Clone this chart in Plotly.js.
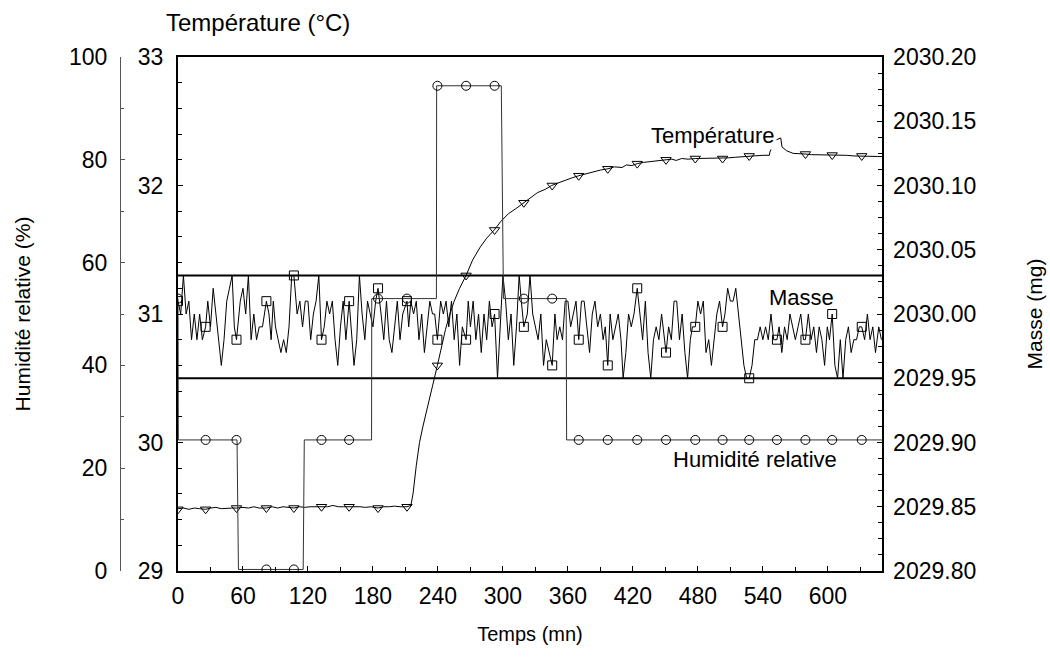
<!DOCTYPE html>
<html><head><meta charset="utf-8">
<script src="https://cdn.plot.ly/plotly-3.0.1.min.js"></script>
<style>html,body{margin:0;padding:0;background:#fff}#chart{width:1050px;height:659px}</style>
</head><body><div id="chart"></div>
<script>
// ---- Data ----
const markerTimes = [0,25.5,54,81.6,107,132.5,158,184.7,211.4,239.5,266,292.3,319.3,345.5,370,396.8,424,450.6,477.6,502.8,527.4,553,579.3,604,631.3];

// Relative humidity (%) - step profile
const hrTime  = [0,0.3,54.5,55.8,115.6,116.6,178.7,178.9,238.6,238.8,298.5,300.5,358.4,358.8,650];
const hrValue = [53,25.5,25.5,0.3,0.3,25.5,25.5,53,53,94.4,94.4,53,53,25.5,25.5];
const hrMarkerValue = [53,25.5,25.5,0.3,0.3,25.5,25.5,53,53,94.4,94.4,94.4,53,53,25.5,25.5,25.5,25.5,25.5,25.5,25.5,25.5,25.5,25.5,25.5];

// Temperature (°C)
const tempTime = [0,5,10,15,20,25.5,30,35,40,45,50,54,60,65,70,75,81.6,87,92,97,102,107,112,117,122,127,132.5,138,143,148,153,158,163,168,173,178,184.7,190,195,200,205,211.4,215,217,220,223,226,229,232,235,239.5,243,247,251,255,260,266,272,279,285,292,298,305,312,319.3,326,332,339,345,351,357,364,370,377,384,390,397,403,410,414,419,424,430,437,444,450.6,456,460,465,471,478,484,490,496,502,508,515,521,527.4,533,540,546,546.5,551,556.5,557.7,562,568,573,579,585,591,597,604,610,617,624,631,638,645,650];
const tempValue = [29.485,29.49,29.48,29.49,29.485,29.48,29.49,29.495,29.485,29.49,29.49,29.49,29.495,29.49,29.5,29.49,29.49,29.5,29.49,29.5,29.495,29.49,29.5,29.495,29.5,29.5,29.5,29.5,29.51,29.5,29.5,29.5,29.505,29.5,29.495,29.5,29.49,29.5,29.5,29.505,29.5,29.5,29.51,29.6,29.82,30.0,30.12,30.22,30.33,30.44,30.6,30.74,30.88,31.0,31.1,31.2,31.3,31.42,31.52,31.59,31.654,31.72,31.78,31.82,31.866,31.91,31.945,31.97,32.0,32.02,32.04,32.06,32.076,32.09,32.11,32.12,32.13,32.145,32.14,32.16,32.155,32.17,32.18,32.185,32.19,32.2,32.205,32.195,32.21,32.205,32.21,32.21,32.215,32.21,32.21,32.215,32.22,32.225,32.23,32.23,32.235,32.235,32.26,32.35,32.37,32.30,32.27,32.25,32.25,32.245,32.24,32.24,32.235,32.237,32.235,32.235,32.23,32.23,32.23,32.225,32.225];
const tempMarkerTime  = [0,25.5,54,81.6,107,132.5,158,184.7,211.4,239.5,266,292.3,319.3,345.5,370,396.8,424,450.6,477.6,502.8,527.4,579.3,604,631.3];
const tempMarkerValue = [29.48,29.48,29.49,29.49,29.49,29.5,29.5,29.49,29.5,30.6,31.3,31.654,31.866,32.0,32.076,32.13,32.17,32.2,32.21,32.21,32.23,32.245,32.237,32.23];

// Mass (mg)
const massTime = [
0,2.5,5,7.5,10,12.5,15,17.5,20,22.5,
25.5,27.5,30,32.5,35,37.5,40,42.5,45,47.5,50,
52,54,57.5,60,62.5,65,67.5,70,72.5,75,78,
81.6,84,86,88,90,92.5,95,97.5,100,102.5,105,107,
110,112.5,115,117.5,120,122.5,125,127.5,130,132.5,
135,137.5,140,142.5,145,147.5,150,152.5,155,158,
160,162.5,165,167.5,170,172.5,175,177.5,180,182.5,184.7,
187.5,190,192.5,195,197.5,200,202.5,205,207.5,211.4,
213,215,217.5,220,222.5,225,227.5,230,232.5,235,237,239.5,
242.5,245,247.5,250,252.5,255,257.5,260,262.5,266,
268,270,272.5,275,277.5,280,282.5,285,287.5,290,292.3,
295,297.5,300,302.5,305,307.5,310,312.5,315,317,319.3,
322.5,325,327.5,330,332.5,335,337.5,340,342.5,345.5,
348,350,352.5,355,357.5,360,362.5,365,367.5,370,
372.5,375,377.5,380,382.5,385,387.5,390,392.5,394.5,396.8,
399,401.5,404,406.5,409,411,413.5,416,418.5,421,424,
426.5,429,431.5,434,436.5,439,441.5,444,446.5,450.6,
453,455.5,458,460.5,463,465.5,468,470.5,473,475,477.6,
480,482.5,485,487.5,490,492.5,495,497.5,500,502.8,
505,507.5,510,512.5,515,517.5,520,522.5,525,527.4,
530,532.5,535,537.5,540,542.5,545,547.5,550,553,
555,557.5,560,562.5,565,567.5,570,572.5,575,577.5,579.3,
582,584.5,587,589.5,592,594.5,597,599.5,601.5,604,
606.5,609,611.5,614,616.5,619,621.5,624,626.5,629,631.3,
634,636.5,639,641.5,644,647,649.5];
const massValue = [
2030.01,2030.00,2030.03,2030.00,2030.01,2029.98,2030.00,2029.98,2030.00,2029.98,
2029.99,2030.01,2029.99,2030.02,2030.00,2029.98,2029.96,2029.98,2030.01,2030.02,2030.03,
2029.99,2029.98,2030.01,2030.02,2030.00,2030.03,2029.98,2030.00,2029.98,2029.99,2029.99,
2030.01,2030.00,2029.98,2030.01,2029.99,2029.98,2029.97,2029.98,2029.97,2029.99,2030.03,2030.03,
2030.00,2030.01,2029.99,2030.01,2030.01,2029.98,2030.00,2030.01,2030.03,2029.98,
2029.99,2030.01,2030.00,2030.01,2029.98,2029.96,2029.99,2030.01,2029.98,2030.01,
2029.99,2029.96,2029.98,2030.03,2030.00,2029.98,2030.01,2030.00,2029.99,2030.01,2030.02,
2030.00,2029.98,2030.01,2029.98,2029.97,2029.99,2030.01,2029.98,2030.00,2030.01,
2029.99,2030.01,2030.00,2030.01,2029.98,2030.00,2029.97,2029.99,2030.01,2030.00,2030.00,2029.98,
2030.01,2030.00,2030.01,2029.99,2030.01,2029.98,2030.00,2029.96,2029.99,2029.98,
2030.01,2029.99,2030.01,2029.98,2030.00,2029.97,2030.00,2029.98,2030.01,2029.99,2030.00,
2029.95,2029.99,2030.03,2030.01,2029.98,2030.00,2029.96,2029.99,2030.03,2030.01,2029.99,
2030.00,2030.03,2030.00,2029.99,2029.98,2030.00,2029.96,2029.98,2029.97,2029.96,
2030.00,2029.98,2029.99,2029.98,2030.01,2030.01,2029.99,2030.00,2030.01,2029.98,
2030.01,2030.01,2029.99,2029.97,2030.00,2030.01,2029.99,2030.00,2029.98,2029.99,2029.96,
2030.00,2029.98,2029.99,2030.00,2029.98,2029.95,2029.97,2030.00,2029.99,2030.00,2030.02,
2030.00,2029.98,2030.01,2029.97,2029.95,2029.98,2029.99,2029.98,2030.00,2029.97,
2029.99,2029.98,2030.01,2030.01,2029.98,2030.00,2029.97,2029.95,2029.98,2029.99,2029.99,
2030.01,2030.00,2030.01,2029.97,2029.98,2029.96,2029.98,2030.00,2030.01,2029.99,
2030.00,2030.02,2030.01,2030.01,2030.02,2030.00,2029.98,2029.96,2029.95,2029.95,
2029.96,2029.98,2029.98,2029.99,2029.98,2029.99,2029.98,2030.00,2029.98,2029.98,
2029.99,2029.97,2029.99,2029.98,2030.00,2029.99,2029.98,2029.99,2030.00,2029.98,2029.98,
2030.00,2029.98,2029.99,2029.97,2029.99,2029.98,2029.96,2029.99,2029.98,2030.00,
2029.96,2029.95,2029.98,2029.95,2029.98,2029.99,2029.97,2029.98,2029.98,2029.99,2029.99,
2029.98,2030.00,2029.98,2029.99,2029.97,2029.99,2029.98];
const massMarkerValue = [2030.01,2029.99,2029.98,2030.01,2030.03,2029.98,2030.01,2030.02,2030.01,2029.98,2029.98,2030.00,2029.99,2029.96,2029.98,2029.96,2030.02,2029.97,2029.99,2029.99,2029.95,2029.98,2029.98,2030.00,2029.99];

// Mass tolerance bounds (mg)
const boundTime  = [0,650];
const massUpper  = [2030.03,2030.03];
const massLower  = [2029.95,2029.95];

const xTickVals = [0,60,120,180,240,300,360,420,480,540,600];

// ---- Plot ----
const FONT = 'Liberation Sans, Arial, Helvetica, sans-serif';
const traces = [
  {x: tempTime, y: tempValue, mode:'lines', line:{color:'#000', width:1}, yaxis:'y', hoverinfo:'skip'},
  {x: tempMarkerTime, y: tempMarkerValue, mode:'markers', yaxis:'y',
   marker:{symbol:'triangle-down-open', size:9, color:'#000', line:{width:1}}},
  {x: boundTime, y: massUpper, mode:'lines', line:{color:'#000', width:2}, yaxis:'y2'},
  {x: boundTime, y: massLower, mode:'lines', line:{color:'#000', width:2}, yaxis:'y2'},
  {x: massTime, y: massValue, mode:'lines', line:{color:'#000', width:1}, yaxis:'y2'},
  {x: markerTimes, y: massMarkerValue, mode:'markers', yaxis:'y2',
   marker:{symbol:'square-open', size:9, color:'#000', line:{width:1}}},
  {x: hrTime, y: hrValue, mode:'lines', line:{color:'#333', width:1}, yaxis:'y3'},
  {x: markerTimes, y: hrMarkerValue, mode:'markers', yaxis:'y3',
   marker:{symbol:'circle-open', size:9, color:'#000', line:{width:1}}}
];

const L = 100, R = 168, T = 57, B = 88;
const plotW = 1050 - L - R;
const layout = {
  width:1050, height:659,
  margin:{l:L, r:R, t:T, b:B, pad:0},
  paper_bgcolor:'#fff', plot_bgcolor:'#fff',
  showlegend:false,
  font:{family:FONT, color:'#000', size:23},
  xaxis:{
    domain:[78/plotW, 1], range:[0,650],
    tickmode:'array', tickvals:xTickVals,
    ticks:'inside', ticklen:5, tickcolor:'#000',
    minor:{dtick:30, tick0:0, ticks:'inside', ticklen:4, tickcolor:'#000'},
    showline:true, linewidth:2, linecolor:'#000', mirror:true,
    showgrid:false, zeroline:false,
    tickfont:{size:23}, ticklabelstandoff:3,
    title:{text:'Temps (mn)', font:{size:20}, standoff:19}
  },
  yaxis:{
    range:[29,33], tickmode:'linear', tick0:29, dtick:1,
    ticks:'inside', ticklen:5, tickcolor:'#000',
    minor:{dtick:0.2, ticks:'inside', ticklen:4, tickcolor:'#000'},
    showline:true, linewidth:2, linecolor:'#000',
    showgrid:false, zeroline:false, tickfont:{size:23}, ticklabelstandoff:8
  },
  yaxis2:{
    overlaying:'y', side:'right', anchor:'x',
    range:[2029.8,2030.2], tickmode:'linear', tick0:2029.8, dtick:0.05, tickformat:'.2f',
    ticks:'inside', ticklen:5, tickcolor:'#000',
    minor:{dtick:0.0125, ticks:'inside', ticklen:4, tickcolor:'#000'},
    showline:true, linewidth:1.5, linecolor:'#000',
    showgrid:false, zeroline:false, tickfont:{size:23}, ticklabelstandoff:5,
    title:{text:'Masse (mg)', font:{size:21}, standoff:52}
  },
  yaxis3:{
    overlaying:'y', side:'left', anchor:'free', position:20/plotW,
    range:[0,100], tickmode:'linear', tick0:0, dtick:20,
    ticks:'inside', ticklen:4, tickcolor:'#555',
    minor:{dtick:10, ticks:'inside', ticklen:3, tickcolor:'#555'},
    showline:true, linewidth:1, linecolor:'#555',
    showgrid:false, zeroline:false, tickfont:{size:23}, ticklabelstandoff:8,
    title:{text:'Humidité relative (%)', font:{size:21}, standoff:31}
  },
  annotations:[
    {text:'Température (°C)', xref:'paper', yref:'paper', x:(258-L)/plotW, y:(571-22)/514,
     xanchor:'center', yanchor:'middle', showarrow:false, font:{size:24}},
    {text:'Température', xref:'x', yref:'y', x:494, y:32.393, xanchor:'center', yanchor:'middle',
     showarrow:false, font:{size:22}, bgcolor:'#fff', borderpad:1},
    {text:'Masse', xref:'x', yref:'y2', x:576, y:2030.013, xanchor:'center', yanchor:'middle',
     showarrow:false, font:{size:22}},
    {text:'Humidité relative', xref:'x', yref:'y3', x:533, y:21.6, xanchor:'center', yanchor:'middle',
     showarrow:false, font:{size:22}}
  ]
};

Plotly.newPlot('chart', traces, layout, {staticPlot:true, displayModeBar:false});
</script>
</body></html>
